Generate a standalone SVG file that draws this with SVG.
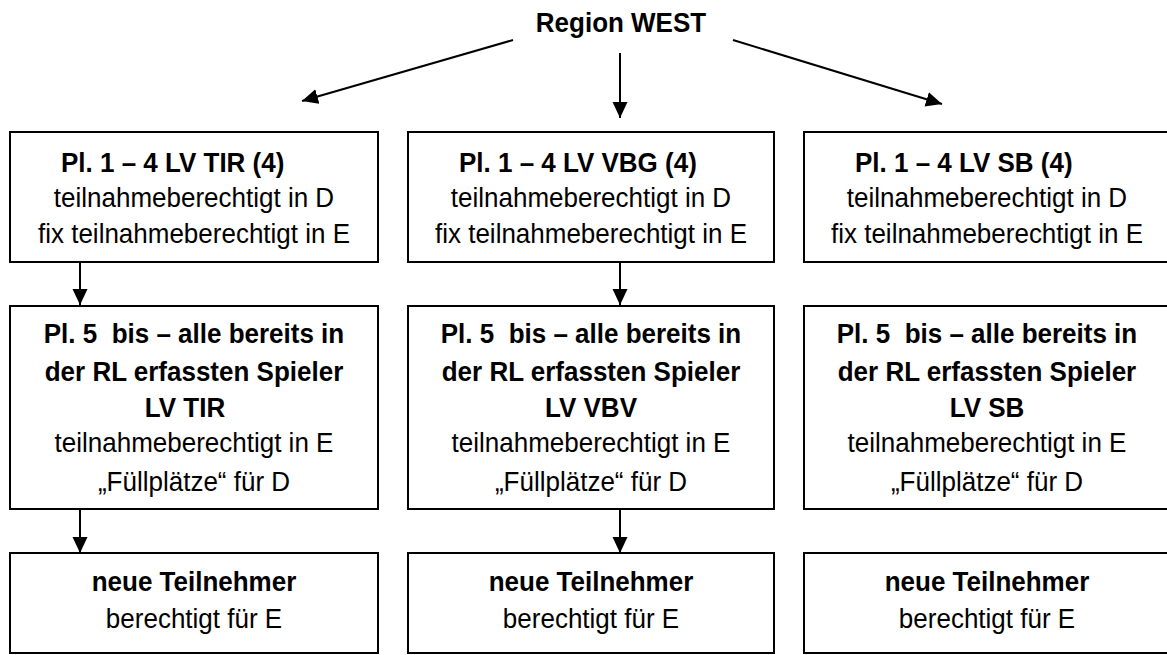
<svg xmlns="http://www.w3.org/2000/svg" width="1167" height="655" viewBox="0 0 1167 655">
<style>
text{font-family:"Liberation Sans",Arial,sans-serif;font-size:26px;fill:#000;white-space:pre}
.b{font-weight:bold}
.c{text-anchor:middle}
.box{fill:#fff;stroke:#000;stroke-width:2}
.con line{stroke:#000;stroke-width:2}
</style>
<defs>
<marker id="ah" markerUnits="userSpaceOnUse" markerWidth="17" markerHeight="16" refX="16" refY="7.5" orient="auto">
<path d="M0,0 L16,7.5 L0,15 z" fill="#000"/>
</marker>
</defs>
<rect width="1167" height="655" fill="#fff"/>
<g id="region"><text class="b c" x="621" y="32" transform="matrix(1 0 0 1.08 0 -2.56)">Region WEST</text></g>
<g class="con" id="connectors">
<line x1="513" y1="40" x2="302" y2="101" marker-end="url(#ah)"/>
<line x1="620" y1="53" x2="620" y2="118" marker-end="url(#ah)"/>
<line x1="733" y1="40" x2="942" y2="104" marker-end="url(#ah)"/>
<line x1="80" y1="262" x2="80" y2="305" marker-end="url(#ah)"/>
<line x1="620" y1="262" x2="620" y2="305" marker-end="url(#ah)"/>
<line x1="80" y1="509" x2="80" y2="553" marker-end="url(#ah)"/>
<line x1="620" y1="509" x2="620" y2="553" marker-end="url(#ah)"/>
</g>
<g id="tir1"><rect class="box" x="10" y="132" width="368" height="130"/>
<text class="b" x="61" y="172" transform="matrix(1 0 0 1.08 0 -13.76)">Pl. 1 – 4 LV TIR (4)</text>
<text class="c" x="194" y="207" transform="matrix(1 0 0 1.08 0 -16.56)">teilnahmeberechtigt in D</text>
<text class="c" x="194" y="243" transform="matrix(1 0 0 1.08 0 -19.44)">fix teilnahmeberechtigt in E</text></g>
<g id="vbg1"><rect class="box" x="408" y="132" width="366" height="130"/>
<text class="b" x="459" y="172" transform="matrix(1 0 0 1.08 0 -13.76)">Pl. 1 – 4 LV VBG (4)</text>
<text class="c" x="591" y="207" transform="matrix(1 0 0 1.08 0 -16.56)">teilnahmeberechtigt in D</text>
<text class="c" x="591" y="243" transform="matrix(1 0 0 1.08 0 -19.44)">fix teilnahmeberechtigt in E</text></g>
<g id="sb1"><rect class="box" x="804" y="132" width="368" height="130"/>
<text class="b" x="855" y="172" transform="matrix(1 0 0 1.08 0 -13.76)">Pl. 1 – 4 LV SB (4)</text>
<text class="c" x="987" y="207" transform="matrix(1 0 0 1.08 0 -16.56)">teilnahmeberechtigt in D</text>
<text class="c" x="987" y="243" transform="matrix(1 0 0 1.08 0 -19.44)">fix teilnahmeberechtigt in E</text></g>
<g id="tir2"><rect class="box" x="10" y="306" width="368" height="203"/>
<text class="b c" x="194" y="343" transform="matrix(1 0 0 1.08 0 -27.44)">Pl. 5  bis – alle bereits in</text>
<text class="b c" x="194" y="381" transform="matrix(1 0 0 1.08 0 -30.48)">der RL erfassten Spieler</text>
<text class="b c" x="185" y="417" transform="matrix(1 0 0 1.08 0 -33.36)">LV TIR</text>
<text class="c" x="194" y="452" transform="matrix(1 0 0 1.08 0 -36.16)">teilnahmeberechtigt in E</text>
<text class="c" x="194" y="491" transform="matrix(1 0 0 1.08 0 -39.28)">„Füllplätze“ für D</text></g>
<g id="vbv2"><rect class="box" x="408" y="306" width="366" height="203"/>
<text class="b c" x="591" y="343" transform="matrix(1 0 0 1.08 0 -27.44)">Pl. 5  bis – alle bereits in</text>
<text class="b c" x="591" y="381" transform="matrix(1 0 0 1.08 0 -30.48)">der RL erfassten Spieler</text>
<text class="b c" x="591" y="417" transform="matrix(1 0 0 1.08 0 -33.36)">LV VBV</text>
<text class="c" x="591" y="452" transform="matrix(1 0 0 1.08 0 -36.16)">teilnahmeberechtigt in E</text>
<text class="c" x="591" y="491" transform="matrix(1 0 0 1.08 0 -39.28)">„Füllplätze“ für D</text></g>
<g id="sb2"><rect class="box" x="804" y="306" width="368" height="203"/>
<text class="b c" x="987" y="343" transform="matrix(1 0 0 1.08 0 -27.44)">Pl. 5  bis – alle bereits in</text>
<text class="b c" x="987" y="381" transform="matrix(1 0 0 1.08 0 -30.48)">der RL erfassten Spieler</text>
<text class="b c" x="987" y="417" transform="matrix(1 0 0 1.08 0 -33.36)">LV SB</text>
<text class="c" x="987" y="452" transform="matrix(1 0 0 1.08 0 -36.16)">teilnahmeberechtigt in E</text>
<text class="c" x="987" y="491" transform="matrix(1 0 0 1.08 0 -39.28)">„Füllplätze“ für D</text></g>
<g id="tir3"><rect class="box" x="10" y="553" width="368" height="100"/>
<text class="b c" x="194" y="591" transform="matrix(1 0 0 1.08 0 -47.28)">neue Teilnehmer</text>
<text class="c" x="194" y="628" transform="matrix(1 0 0 1.08 0 -50.24)">berechtigt für E</text></g>
<g id="vbv3"><rect class="box" x="408" y="553" width="366" height="100"/>
<text class="b c" x="591" y="591" transform="matrix(1 0 0 1.08 0 -47.28)">neue Teilnehmer</text>
<text class="c" x="591" y="628" transform="matrix(1 0 0 1.08 0 -50.24)">berechtigt für E</text></g>
<g id="sb3"><rect class="box" x="804" y="553" width="368" height="100"/>
<text class="b c" x="987" y="591" transform="matrix(1 0 0 1.08 0 -47.28)">neue Teilnehmer</text>
<text class="c" x="987" y="628" transform="matrix(1 0 0 1.08 0 -50.24)">berechtigt für E</text></g>
</svg>
